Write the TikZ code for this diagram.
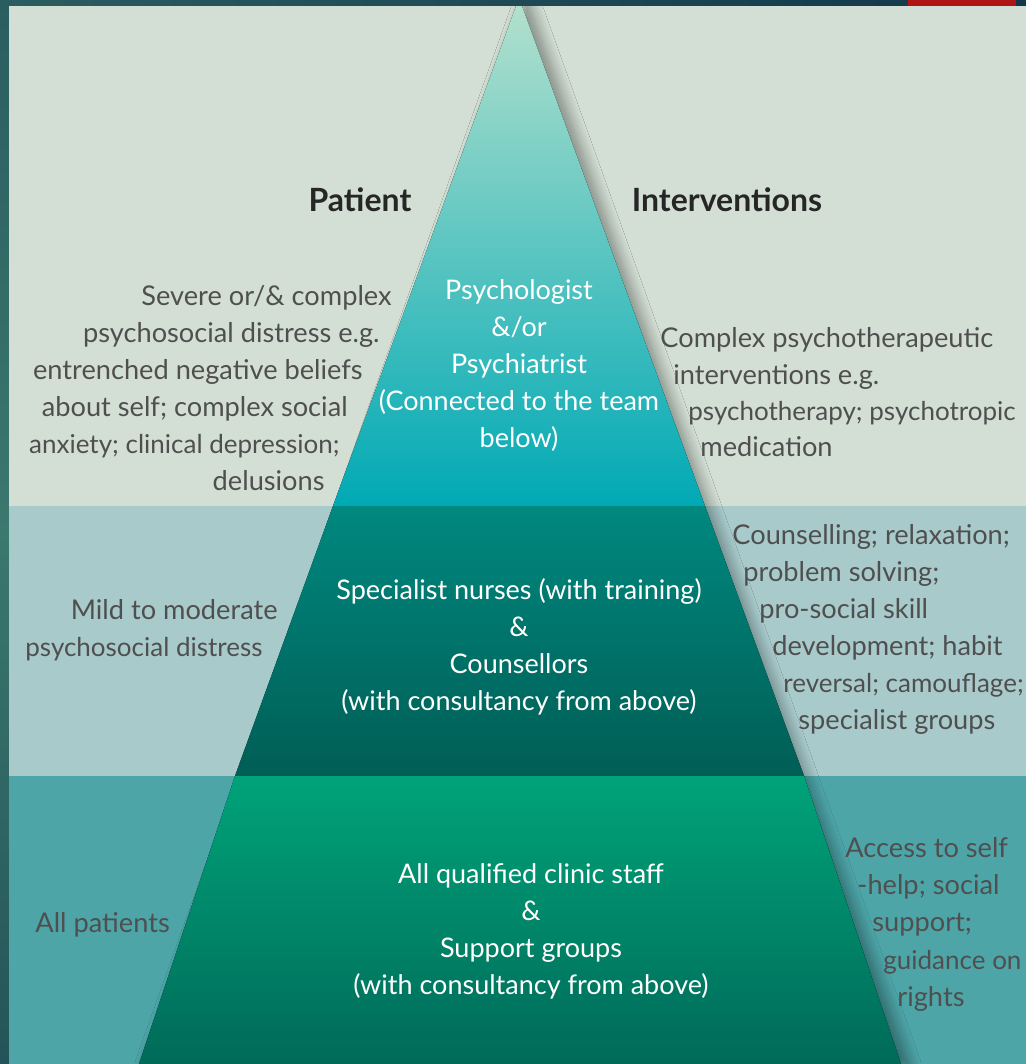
\documentclass[tikz,border=0pt]{standalone}
\usepackage{fontspec}
\setmainfont{Lato}
\usetikzlibrary{shadows.blur}
\definecolor{frameA}{HTML}{2A5D60}
\definecolor{frameB}{HTML}{3B786E}
\definecolor{frameC}{HTML}{245459}
\definecolor{frameR}{HTML}{12364A}
\definecolor{redmark}{HTML}{B01515}
\definecolor{bandA}{HTML}{D3DFD4}
\definecolor{bandB}{HTML}{A8CACB}
\definecolor{bandC}{HTML}{4DA5A8}
\definecolor{triTopA}{HTML}{B5E1CD}
\definecolor{triTopB}{HTML}{00A9B5}
\definecolor{triMidA}{HTML}{00887F}
\definecolor{triMidB}{HTML}{005E55}
\definecolor{triBotA}{HTML}{00A379}
\definecolor{triBotB}{HTML}{006A59}
\definecolor{sidegray}{HTML}{4F4F4F}
\definecolor{titlegray}{HTML}{262626}
\begin{document}
\begin{tikzpicture}[x=0.5pt,y=0.5pt,
  side/.style={text=sidegray, font=\fontsize{13.6}{15}\selectfont, inner sep=0pt},
  sidetight/.style={side, font=\fontsize{13}{15}\selectfont},
  inner/.style={text=white, font=\fontsize{13.5}{18.5}\selectfont, align=center, inner sep=0pt},
  title/.style={text=titlegray, font=\bfseries\fontsize{16}{18}\selectfont, inner sep=0pt}]
\useasboundingbox (0,0) rectangle (1026,-1064);
% frame
\fill[top color=frameA, bottom color=frameC, middle color=frameB] (0,0) rectangle (1026,-1064);
% bands
\fill[bandA] (9,-6) rectangle (1026,-506);
\fill[bandB] (9,-506) rectangle (1026,-776);
\fill[bandC] (9,-776) rectangle (1026,-1064);
% pyramid shadow
\path[blur shadow={shadow xshift=4pt, shadow yshift=0pt, shadow blur radius=6pt, shadow blur steps=12, shadow opacity=40}]
  (519,2) -- (901,-1064) -- (139,-1064) -- cycle;
% pyramid tiers
\fill[top color=triTopA, bottom color=triTopB] (519,2) -- (333,-506) -- (705,-506) -- cycle;
\fill[top color=triMidA, bottom color=triMidB] (333,-506) -- (235,-776) -- (804,-776) -- (705,-506) -- cycle;
\fill[top color=triBotA, bottom color=triBotB] (235,-776) -- (139,-1064) -- (901,-1064) -- (804,-776) -- cycle;
% top strip and red mark
\fill[left color=frameA, right color=frameR] (0,0) rectangle (1026,-6);
\fill[redmark] (908,0) rectangle (1016,-6);
% titles
\node[title] (tpat) at (360,-200) {Patient};
\node[title] (tint) at (727,-200) {Interventions};
% top tier
\node[inner] (c1) at (519,-366) {Psychologist\\\&/or\\Psychiatrist\\(Connected to the team\\below)};
\node[side, anchor=mid east] (a1) at (392,-300) {Severe or/\& complex};
\node[side, anchor=mid east] (a2) at (380,-337) {psychosocial distress e.g.};
\node[side, anchor=mid east] (a3) at (363,-374) {entrenched negative beliefs};
\node[side, anchor=mid east] (a4) at (348,-411) {about self; complex social};
\node[sidetight, anchor=mid east] (a5) at (340,-448) {anxiety; clinical depression;};
\node[side, anchor=mid east] (a6) at (325,-485) {delusions};
\node[side, anchor=mid west] (b1) at (660,-342) {Complex psychotherapeutic};
\node[side, anchor=mid west] (b2) at (673,-379) {interventions e.g.};
\node[sidetight, anchor=mid west] (b3) at (688,-415) {psychotherapy; psychotropic};
\node[side, anchor=mid west] (b4) at (700,-451) {medication};
% middle tier
\node[inner] (c2) at (519,-647) {Specialist nurses (with training)\\\&\\Counsellors\\(with consultancy from above)};
\node[side, anchor=mid east] (m1) at (278,-614) {Mild to moderate};
\node[sidetight, anchor=mid east] (m2) at (263,-651) {psychosocial distress};
\node[side, anchor=mid west] (n1) at (732,-539) {Counselling; relaxation;};
\node[side, anchor=mid west] (n2) at (743,-576) {problem solving;};
\node[side, anchor=mid west] (n3) at (759,-613) {pro-social skill};
\node[side, anchor=mid west] (n4) at (772,-650) {development; habit};
\node[sidetight, anchor=mid west] (n5) at (783,-687) {reversal; camouflage;};
\node[side, anchor=mid west] (n6) at (798,-724) {specialist groups};
% bottom tier
\node[inner] (c3) at (531,-931) {All qualified clinic staff\\\&\\Support groups\\(with consultancy from above)};
\node[side, anchor=mid west] (p1) at (35,-927) {All patients};
\node[side, anchor=mid west] (q1) at (845,-852) {Access to self};
\node[side, anchor=mid west] (q2) at (857,-889) {-help; social};
\node[side, anchor=mid west] (q3) at (872,-926) {support;};
\node[sidetight, anchor=mid west] (q4) at (883,-964) {guidance on};
\node[side, anchor=mid west] (q5) at (897,-1001) {rights};
\end{tikzpicture}
\end{document}
